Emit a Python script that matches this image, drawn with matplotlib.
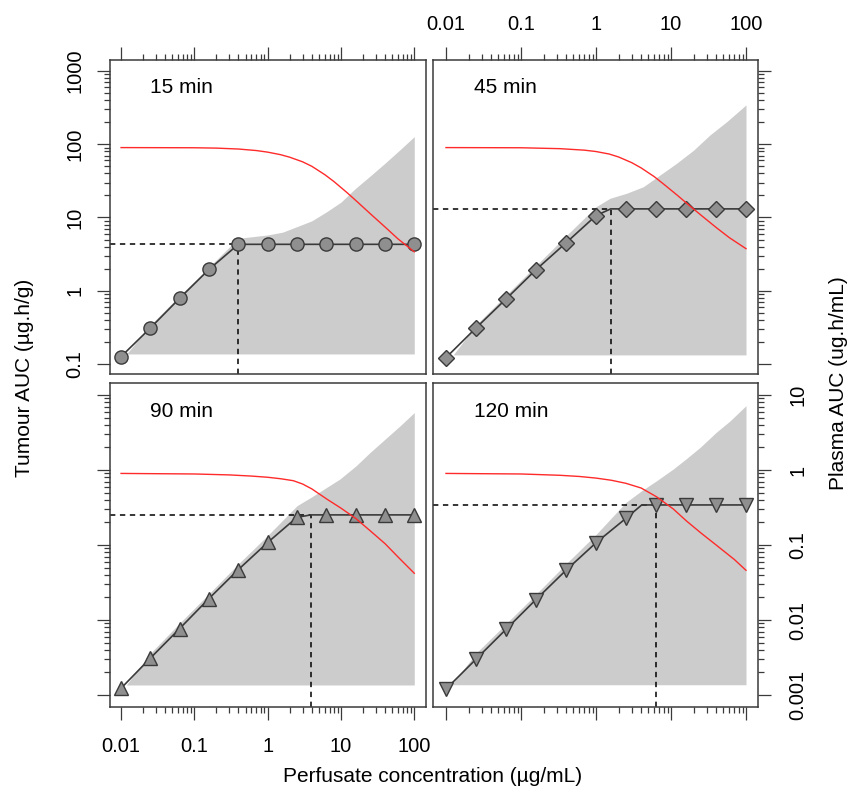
import matplotlib
matplotlib.use("Agg")
import matplotlib.pyplot as plt
from matplotlib.ticker import FixedLocator, NullFormatter

plt.rcParams["font.family"] = ["Liberation Sans", "DejaVu Sans"]

# perfusate concentrations (ug/mL), shared by all panels
conc = [0.01, 0.0251, 0.0631, 0.158, 0.398, 1.0, 2.51, 6.31, 15.8, 39.8, 100.0]
x_ticks = [0.01, 0.1, 1, 10, 100]
x_labels = ["0.01", "0.1", "1", "10", "100"]
tum_ticks = [0.1, 1, 10, 100, 1000]
tum_labels = ["0.1", "1", "10", "100", "1000"]
pla_ticks = [0.001, 0.01, 0.1, 1, 10]
pla_labels = ["0.001", "0.01", "0.1", "1", "10"]

# ---- 15 min ----
auc_15 = [0.126, 0.31, 0.79, 1.95, 4.3, 4.3, 4.3, 4.3, 4.3, 4.3, 4.3]
line_x_15 = conc
line_y_15 = auc_15
knee_15 = (0.398, 4.3)
grey_x_15 = [0.0119, 0.0251, 0.0631, 0.158, 0.398, 1.0, 1.6, 2.51, 4.0, 6.4, 10.0,
             15.8, 25.0, 39.8, 63.0, 100.0]
grey_hi_15 = [0.137, 0.34, 0.86, 2.1, 5.2, 5.77, 6.3, 7.5, 9.0, 12.0, 16.2,
              25.0, 36.8, 55.0, 83.0, 127.0]
grey_lo_15 = 0.137
red_x_15 = [0.01, 0.1, 0.2, 0.4, 0.7, 1.0, 1.5, 2.0, 3.0, 4.0, 6.0, 8.0, 12.0, 16.0,
            25.0, 40.0, 60.0, 100.0]
red_y_15 = [90, 89.5, 88.5, 86, 82, 78, 72, 66.5, 57.5, 50, 38.5, 31, 22, 17,
            11.3, 7.4, 5.1, 3.4]

# ---- 45 min ----
auc_45 = [0.122, 0.31, 0.77, 1.93, 4.5, 10.6, 13.1, 13.1, 13.1, 13.1, 13.1]
line_x_45 = [0.01, 0.0251, 0.0631, 0.158, 0.398, 1.0, 1.57, 2.51, 6.31, 15.8, 39.8, 100.0]
line_y_45 = [0.122, 0.31, 0.77, 1.93, 4.5, 10.6, 13.1, 13.1, 13.1, 13.1, 13.1, 13.1]
knee_45 = (1.57, 13.1)
grey_x_45 = [0.0125, 0.0251, 0.0631, 0.158, 0.398, 1.0, 1.54, 2.56, 4.28, 7.13,
             11.9, 20.0, 33.1, 55.3, 100.0]
grey_hi_45 = [0.133, 0.34, 0.87, 2.2, 5.6, 14.0, 18.3, 21.4, 26.3, 38, 55, 83, 134, 203, 344]
grey_lo_45 = 0.133
red_x_45 = [0.01, 0.1, 0.33, 0.7, 1.0, 1.5, 2.0, 3.0, 4.0, 6.0, 8.0, 12.0, 16.0,
            25.0, 40.0, 60.0, 100.0]
red_y_45 = [90, 89.5, 87, 83, 79.5, 73.5, 67, 56, 47.5, 36, 28.5, 20.3, 15.8,
            10.8, 7.3, 5.3, 3.75]

# ---- 90 min ----
auc_90 = [0.00123, 0.0031, 0.0077, 0.0193, 0.047, 0.108, 0.234, 0.252, 0.252, 0.252, 0.252]
line_x_90 = [0.01, 0.0251, 0.0631, 0.158, 0.398, 1.0, 2.51, 3.9, 6.31, 15.8, 39.8, 100.0]
line_y_90 = [0.00123, 0.0031, 0.0077, 0.0193, 0.047, 0.108, 0.234, 0.252, 0.252,
             0.252, 0.252, 0.252]
knee_90 = (3.9, 0.252)
grey_x_90 = [0.0118, 0.0251, 0.0631, 0.158, 0.398, 1.0, 2.52, 3.9, 6.4, 9.7, 16.1,
             24.9, 40.0, 64.0, 100.0]
grey_hi_90 = [0.00136, 0.0036, 0.0091, 0.0224, 0.056, 0.134, 0.335, 0.432, 0.587,
              0.76, 1.14, 1.71, 2.58, 3.88, 5.83]
grey_lo_90 = 0.00136
red_x_90 = [0.01, 0.1, 0.3, 0.6, 1.0, 1.5, 2.24, 3.0, 4.0, 6.4, 10.0, 16.0, 25.0,
            40.0, 63.0, 100.0]
red_y_90 = [0.9, 0.885, 0.86, 0.83, 0.8, 0.765, 0.72, 0.65, 0.56, 0.41, 0.31, 0.225,
            0.155, 0.104, 0.066, 0.042]

# ---- 120 min ----
auc_120 = [0.0012, 0.003, 0.0075, 0.0187, 0.046, 0.107, 0.227, 0.342, 0.342, 0.342, 0.342]
line_x_120 = [0.01, 0.0251, 0.0631, 0.158, 0.398, 1.0, 2.51, 4.07, 6.31, 15.8, 39.8, 100.0]
line_y_120 = [0.0012, 0.003, 0.0075, 0.0187, 0.046, 0.107, 0.227, 0.342, 0.342,
              0.342, 0.342, 0.342]
knee_120 = (6.4, 0.342)
grey_x_120 = [0.0119, 0.0251, 0.0631, 0.158, 0.398, 1.0, 2.51, 4.07, 6.44, 10.7,
              15.8, 24.4, 39.8, 61.0, 100.0]
grey_hi_120 = [0.00137, 0.0036, 0.0089, 0.022, 0.056, 0.138, 0.371, 0.53, 0.72, 1.03,
               1.4, 2.0, 3.16, 4.5, 7.2]
grey_lo_120 = 0.00137
red_x_120 = [0.01, 0.1, 0.33, 0.6, 1.0, 1.6, 2.5, 4.0, 6.4, 10.7, 16.0, 25.0, 40.0,
             70.0, 100.0]
red_y_120 = [0.9, 0.885, 0.85, 0.82, 0.78, 0.73, 0.665, 0.575, 0.44, 0.303, 0.21,
             0.145, 0.1, 0.064, 0.046]

panels = [
    ("15 min", "o", auc_15, line_x_15, line_y_15, knee_15, grey_x_15, grey_hi_15, grey_lo_15, red_x_15, red_y_15),
    ("45 min", "D", auc_45, line_x_45, line_y_45, knee_45, grey_x_45, grey_hi_45, grey_lo_45, red_x_45, red_y_45),
    ("90 min", "^", auc_90, line_x_90, line_y_90, knee_90, grey_x_90, grey_hi_90, grey_lo_90, red_x_90, red_y_90),
    ("120 min", "v", auc_120, line_x_120, line_y_120, knee_120, grey_x_120, grey_hi_120, grey_lo_120, red_x_120, red_y_120),
]

W, H = 857, 798
fig = plt.figure(figsize=(W / 100, H / 100), dpi=100)


def box(x0, y0, x1, y1):
    return [x0 / W, 1 - y1 / H, (x1 - x0) / W, (y1 - y0) / H]


def minor_ticks(lo_exp, hi_exp):
    # 2..9 sub-ticks inside the labelled decades only
    return [m * 10.0 ** e for e in range(lo_exp, hi_exp) for m in range(2, 10)]


boxes = [box(109.7, 60, 426, 374), box(432.7, 60, 758.3, 374),
         box(109.7, 382.7, 426, 707.3), box(432.7, 382.7, 758.3, 707.3)]
xlims = [(10 ** -2.155, 10 ** 2.16), (10 ** -2.177, 10 ** 2.164)]
ylims = [(10 ** -1.137, 10 ** 3.15), (10 ** -3.164, 10 ** 1.164)]

DARK = "#3a3a3a"

for k, (title, mk, pts, lx, ly, knee, gx, ghi, glo, rx, ry) in enumerate(panels):
    row, col = divmod(k, 2)
    ax = fig.add_axes(boxes[k])
    ax.set_xscale("log")
    ax.set_yscale("log")
    ax.set_xlim(*xlims[col])
    ax.set_ylim(*ylims[row])

    ax.fill_between(gx, [glo] * len(gx), ghi, color="#cccccc", lw=0, zorder=1)
    x0 = ax.get_xlim()[0]
    y0 = ax.get_ylim()[0]
    ax.plot([x0, knee[0]], [knee[1], knee[1]], color="black", lw=1.1,
            dashes=(3.5, 3), zorder=2)
    ax.plot([knee[0], knee[0]], [y0, knee[1]], color="black", lw=1.1,
            dashes=(3.5, 3), zorder=2)
    ax.plot(lx, ly, color=DARK, lw=1.2, zorder=3)
    ax.plot(conc, pts, ls="none", marker=mk, ms=9.5 if mk != "D" else 8.5,
            mfc="#8f8f8f", mec=DARK, mew=1.0, zorder=4)
    ax.plot(rx, ry, color="#ff2a2a", lw=1.0, zorder=5)

    ax.text(0.126, 0.894, title, transform=ax.transAxes, fontsize=15,
            va="baseline", ha="left")

    ax.xaxis.set_major_locator(FixedLocator(x_ticks))
    ax.set_xticklabels(x_labels)
    ax.xaxis.set_minor_locator(FixedLocator(minor_ticks(-2, 2)))
    ax.xaxis.set_minor_formatter(NullFormatter())
    if row == 0:
        ax.yaxis.set_major_locator(FixedLocator(tum_ticks))
        ax.set_yticklabels(tum_labels)
        ax.yaxis.set_minor_locator(FixedLocator(minor_ticks(-1, 3)))
    else:
        ax.yaxis.set_major_locator(FixedLocator(pla_ticks))
        ax.set_yticklabels(pla_labels)
        ax.yaxis.set_minor_locator(FixedLocator(minor_ticks(-3, 1)))
    ax.yaxis.set_minor_formatter(NullFormatter())

    ax.tick_params(which="both", direction="out", color=DARK, width=0.9,
                   top=(row == 0), bottom=(row == 1),
                   left=(col == 0), right=(col == 1),
                   labeltop=(k == 1), labelbottom=(k == 2),
                   labelleft=(k == 0), labelright=(k == 3))
    ax.tick_params(which="major", length=9.5, labelsize=14.5)
    ax.tick_params(which="minor", length=4.5)
    ax.tick_params(axis="y", labelrotation=90)
    if row == 0:
        ax.tick_params(axis="x", which="major", pad=9)
        ax.tick_params(axis="y", which="major", pad=9)
    else:
        ax.tick_params(axis="x", which="major", pad=12)
        ax.tick_params(axis="y", which="major", pad=12)
    for lab in ax.get_yticklabels():
        lab.set_verticalalignment("center")
    for sp in ax.spines.values():
        sp.set_color(DARK)
        sp.set_linewidth(1.1)

fig.text(25 / W, 1 - 378 / H, "Tumour AUC (µg.h/g)", rotation=90, fontsize=15,
         ha="center", va="center")
fig.text(838 / W, 1 - 383 / H, "Plasma AUC (ug.h/mL)", rotation=90, fontsize=15,
         ha="center", va="center")
fig.text(432.5 / W, 1 - 777 / H, "Perfusate concentration (µg/mL)", fontsize=15,
         ha="center", va="center")

fig.savefig("out.png", dpi=100)
